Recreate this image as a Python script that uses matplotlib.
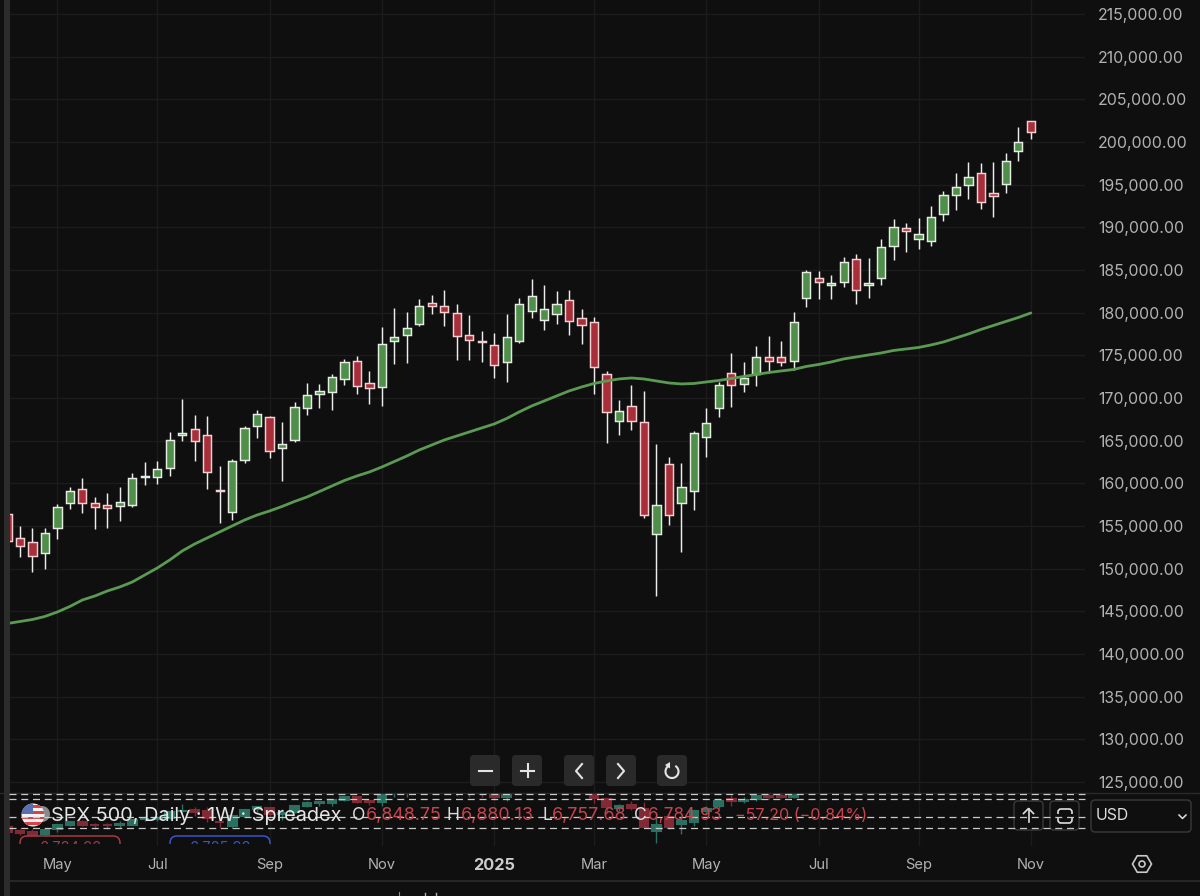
import matplotlib
matplotlib.use("Agg")
import matplotlib.pyplot as plt
import numpy as np
from matplotlib.patches import FancyBboxPatch, Rectangle, Circle, Arc, Polygon

plt.rcParams['font.family'] = ['Inter', 'DejaVu Sans']

opens = [156350,153630,153160,151840,154800,157660,159340,157660,157500,157380,157500,160780,160710,161835,165700,166405,165630,159220,156610,162775,
         166690,167775,164110,165080,168830,170470,170670,172230,174340,171725,171330,176650,177350,178675,181170,180820,179965,177350,176650,176215,
         174220,176720,180235,179145,179810,181490,179345,178875,172815,167275,169065,167225,154065,162305,157700,159140,165470,168865,172900,171645,
         172850,174840,174840,174375,181760,184030,183210,183630,186290,183280,184030,187780,189925,188600,188435,191565,193760,194930,196335,193995,
         195115,198985,202430]
closes = [153300,152625,151450,154220,157200,159140,157660,157230,157150,157780,160630,160900,161650,165115,165865,164930,161295,159140,162620,166490,
          168095,163790,164575,168985,170355,170860,172500,174255,171410,171175,176365,177150,178205,180785,180785,180080,177270,176800,176565,173835,
          177115,181020,181955,180400,181020,178990,178560,173600,168330,168445,167275,156255,157430,156330,159575,165900,167110,171525,171560,172310,
          174840,174375,174185,178910,184770,183600,183515,185975,182660,183445,187665,190080,189610,189185,191180,193760,194730,195940,192940,193675,
          197815,200040,201140]
highs = [156350,155000,154800,154800,157580,159610,160660,158440,158835,159610,161180,162540,162660,165985,169885,167975,167860,162035,162890,166720,
         168560,167930,167225,169570,171725,171645,172780,174540,174925,173130,178290,180550,180080,181605,182075,182660,181055,179695,177855,177585,
         179810,181690,183950,183280,182510,182660,180435,179460,173130,169735,171490,170860,164615,163125,162420,166170,168795,171915,175240,174185,
         176095,177270,176680,180080,185005,184850,184420,186560,186915,186375,188600,190945,190475,191060,192505,194260,196335,197695,197540,197625,
         198715,201760,202430]
lows = [153250,151400,149650,149960,153480,157030,156525,154690,154800,155590,157230,159840,159925,160860,164965,162620,159375,155355,155740,162385,
        165315,162970,160240,164850,168010,168830,168560,171490,170435,169335,169030,173950,174105,178475,179810,178440,174490,174420,174185,172345,
        171880,176485,179415,177970,178675,177350,176365,170510,164765,165630,166255,155905,146765,155120,151955,156880,163090,167775,168915,170740,
        171445,172935,173720,173285,180705,181640,181570,183045,181055,181760,183245,186210,187115,187465,187815,190780,192035,193290,192185,191250,
        193990,197775,200355]
ma_line = [143575,143810,144045,144400,144925,145570,146330,146800,147385,147855,148440,149260,150080,151020,152075,152895,153600,154300,155005,155705,
           156290,156760,157290,157875,158400,159045,159690,160335,160865,161330,161915,162560,163205,163910,164495,165080,165550,166020,166490,166955,
           167600,168365,169065,169650,170240,170825,171290,171700,171995,172230,172345,172230,171995,171760,171645,171700,171880,172055,172290,172525,
           172755,172990,173170,173345,173695,173930,174220,174575,174810,175045,175275,175570,175745,175920,176215,176565,177035,177505,178030,178500,
           178970,179435,179965]
month_idx = [4, 12, 21, 30, 39, 47, 56, 65, 73, 82]
month_labels = ['May', 'Jul', 'Sep', 'Nov', '2025', 'Mar', 'May', 'Jul', 'Sep', 'Nov']
price_ticks = list(range(125000, 215001, 5000))

BG = '#0f0f10'; GRID = '#1c1c1c'; TXT = '#b2b2b2'
GREEN = '#4f8f4a'; RED = '#a82f3a'; GHOST_G = '#2a6f60'; GHOST_R = '#7f2a34'
LEG_RED = '#c5444d'

W, H = 1200, 896
fig = plt.figure(figsize=(12, 8.96), dpi=100, facecolor=BG)

def px_axes(x0, y0, x1, y1, **kw):
    return fig.add_axes([x0 / W, 1 - y1 / H, (x1 - x0) / W, (y1 - y0) / H], **kw)

o = np.array(opens); c = np.array(closes); h = np.array(highs); l = np.array(lows)
idx = np.arange(len(o))
up = c >= o
bw = 0.66

ax = px_axes(9, 0, 1085, 846, facecolor=BG)
ax.set_xlim(0.12, 86.34)
ax.set_ylim(117500, 216640)
for s in ax.spines.values():
    s.set_visible(False)
ax.set_axisbelow(True)
ax.grid(True, color=GRID, lw=1.0)
ax.yaxis.tick_right()
ax.set_yticks(price_ticks, [f'{v:,.2f}' for v in price_ticks])
ax.set_xticks(month_idx, month_labels)
ax.tick_params(axis='y', length=0, pad=9.5, labelsize=11.4, labelcolor=TXT)
ax.tick_params(axis='x', length=0, pad=8.5, labelsize=10.6, labelcolor=TXT)
for t in ax.get_xticklabels():
    if t.get_text() == '2025':
        t.set_fontweight('bold'); t.set_color('#cccccc'); t.set_fontsize(11.8)

ax.vlines(idx[up], l[up], h[up], color='#ececec', lw=1.05, zorder=3)
ax.vlines(idx[~up], l[~up], h[~up], color='#ececec', lw=1.05, zorder=3)
ax.bar(idx[up], (c - o)[up], bottom=o[up], width=bw, color=GREEN, edgecolor='#e6ece4', linewidth=1.05, zorder=4)
ax.bar(idx[~up], (o - c)[~up], bottom=c[~up], width=bw, color=RED, edgecolor='#f3cfd2', linewidth=1.05, zorder=4)
ax.plot(idx, ma_line, color='#5b9a52', lw=2.0, zorder=5, solid_capstyle='round')

# ghosted compressed copy of the candles behind the legend strip
gx = px_axes(9, 793, 1085, 844)
gx.patch.set_alpha(0); gx.axis('off')
gx.set_xlim(0.12, 86.34)
gx.set_ylim(146000, 146765 + 48 * 620)
gx.vlines(idx[up], l[up], h[up], color=GHOST_G, lw=1.0)
gx.vlines(idx[~up], l[~up], h[~up], color=GHOST_R, lw=1.0)
gx.bar(idx[up], (c - o)[up], bottom=o[up], width=0.7, color=GHOST_G, edgecolor=GHOST_G, linewidth=1.5)
gx.bar(idx[~up], (o - c)[~up], bottom=c[~up], width=0.7, color=GHOST_R, edgecolor=GHOST_R, linewidth=1.5)

# pixel-space overlay for the application chrome
ui = px_axes(0, 0, W, H)
ui.set_xlim(0, W); ui.set_ylim(H, 0); ui.axis('off'); ui.patch.set_alpha(0)

ui.add_patch(Rectangle((4, 0), 5.5, H, fc='#2c2c2c', ec='none'))
ui.plot([0, W], [793, 793], color='#2a2a2a', lw=1)
ui.plot([9, W], [881.5, 881.5], color='#2a2a2a', lw=1.3)

for yy in (794.5, 799.5, 816.7, 827.7):
    ui.plot([9, 1085], [yy, yy], color='#c9c9c9', lw=0.9, dashes=(5.6, 3.8))

# chart controls
for x0 in (470, 512, 564, 606, 657):
    ui.add_patch(FancyBboxPatch((x0 + 3, 758), 24, 25, boxstyle='round,pad=3,rounding_size=4', fc='#2a2a2b', ec='none'))
ui.plot([479, 492], [771, 771], color='#e4e4e4', lw=1.5)
ui.plot([521, 534], [771, 771], color='#e4e4e4', lw=1.5)
ui.plot([527.5, 527.5], [764.5, 777.5], color='#e4e4e4', lw=1.5)
ui.plot([582, 576, 582], [764, 771, 778], color='#e4e4e4', lw=1.5)
ui.plot([618, 624, 618], [764, 771, 778], color='#e4e4e4', lw=1.5)
ui.add_patch(Arc((672, 771.5), 13, 13, theta1=-60, theta2=250, color='#e4e4e4', lw=1.5))
ui.add_patch(Polygon([[670, 762], [670, 768.5], [665, 765]], fc='#e4e4e4', ec='none'))

# flag icon
ui.add_patch(Circle((42, 814), 8, fc='#8a8a8a', ec='none'))
clip = Circle((33, 815), 11.5, transform=ui.transData)
ui.add_patch(Circle((33, 815), 11.5, fc='#f2f2f2', ec='none'))
for k in range(4):
    r = Rectangle((20, 805.5 + k * 5.6), 26, 2.8, fc='#d8434a', ec='none')
    ui.add_patch(r); r.set_clip_path(clip)
r = Rectangle((20, 802), 13, 11.5, fc='#5a6fb0', ec='none')
ui.add_patch(r); r.set_clip_path(clip)

# legend text
ui.text(51, 816, 'SPX 500, Daily · 1W · Spreadex', color='#e6e6e6', fontsize=14.3, va='center', ha='left')
for xt, s, col, fs in [(352, 'O', '#dcdcdc', 12.7), (366, '6,848.75', LEG_RED, 12.9), (447, 'H', '#dcdcdc', 12.7), (461, '6,880.13', LEG_RED, 12.9),
                       (543, 'L', '#dcdcdc', 12.7), (552, '6,757.68', LEG_RED, 12.9), (634, 'C', '#dcdcdc', 12.7), (648, '6,784.93', LEG_RED, 12.4),
                       (735, '−57.20 (−0.84%)', LEG_RED, 11.6)]:
    ui.text(xt, 815.5, s, color=col, fontsize=fs, va='center', ha='left')

# clipped price pills
strip = Rectangle((0, 780), W, 64, transform=ui.transData)
for x0, x1, col, s in [(20, 120, '#a83a42', '6,784.93'), (170, 270, '#3a55c8', '6,785.98')]:
    p = FancyBboxPatch((x0, 836), x1 - x0, 20, boxstyle='round,pad=0,rounding_size=7', fc=BG, ec=col, lw=1.1)
    ui.add_patch(p); p.set_clip_path(strip)
    t = ui.text((x0 + x1) / 2, 848, s, color=col, fontsize=10.5, ha='center', va='center', clip_on=True)
    t.set_clip_path(strip)

# right-hand controls
for x0, x1, y0, y1 in [(1014, 1043, 801, 830), (1050, 1079, 801, 830), (1091, 1191, 800, 832)]:
    ui.add_patch(FancyBboxPatch((x0, y0), x1 - x0, y1 - y0, boxstyle='round,pad=0,rounding_size=4', fc=BG, ec='#3a3a3a', lw=1))
ui.plot([1028.5, 1028.5], [809, 822], color='#dedede', lw=1.2)
ui.plot([1023.5, 1028.5, 1033.5], [813.5, 808.5, 813.5], color='#dedede', lw=1.2)
ui.add_patch(FancyBboxPatch((1058, 809), 14, 14, boxstyle='round,pad=0,rounding_size=3', fc='none', ec='#dedede', lw=1.2))
ui.add_patch(Rectangle((1055, 814.5), 20, 3, fc=BG, ec='none'))
ui.text(1096, 816, 'USD', color='#dedede', fontsize=11.4, va='center', ha='left')
ui.plot([1179, 1182.5, 1186], [815, 818.5, 815], color='#dedede', lw=1.1)

# settings hexagon
ang = np.deg2rad(np.arange(0, 360, 60))
ui.add_patch(Polygon(np.c_[1142 + 9.5 * np.cos(ang), 864 + 9.5 * np.sin(ang)], closed=True, fc='none', ec='#c8c8c8', lw=1.2))
ui.add_patch(Circle((1142, 864), 3, fc='none', ec='#c8c8c8', lw=1.2))

# cut-off marks at the bottom edge
ui.plot([399, 399], [892, 896], color='#8a8a8a', lw=0.8)
ui.plot([425, 425], [893, 896], color='#b0b0b0', lw=1)
ui.plot([436, 436], [893, 896], color='#b0b0b0', lw=1)

fig.savefig('out.png', dpi=100, facecolor=BG)
